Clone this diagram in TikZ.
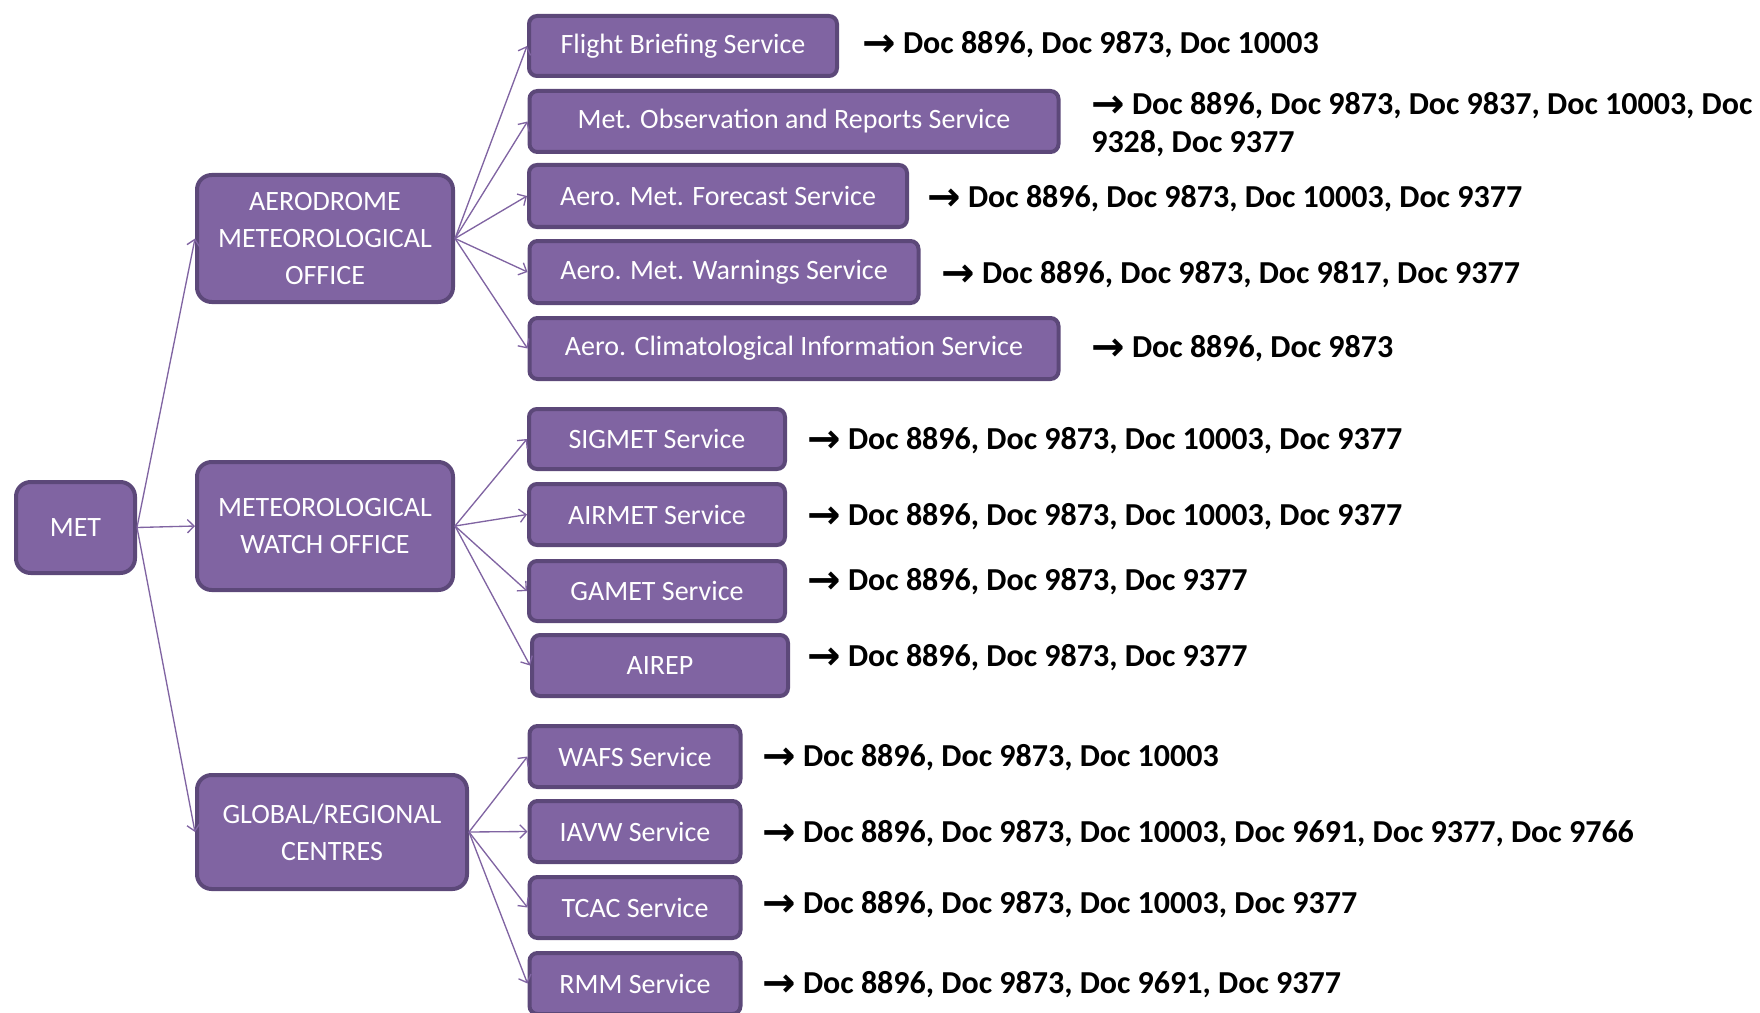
\documentclass[tikz,border=0pt]{standalone}
\usepackage{fontspec}
\setmainfont{Carlito}
\newfontfamily\frecciafont{DejaVu Sans}
\usetikzlibrary{arrows.meta}

\definecolor{viola}{HTML}{8064A2}
\definecolor{violascuro}{HTML}{5C4879}

\tikzset{
  box/.style={draw=violascuro, fill=viola, line width=3pt, rounded corners=6pt,
    text=white, align=center, inner sep=0pt, font=\fontsize{21}{27.75}\selectfont},
  bigbox/.style={box, rounded corners=11pt},
  sz/.style 2 args={minimum width=#1*0.75pt-3pt, minimum height=#2*0.75pt-3pt},
  doc/.style={anchor=west, inner sep=0pt, align=left,
    font=\fontsize{24}{28.5}\selectfont\bfseries},
  link/.style={draw=viola, line width=1pt, -{Straight Barb[length=5pt,width=10pt]}}
}
\newcommand{\freccia}{\raisebox{-2pt}{\frecciafont\bfseries\fontsize{30}{28.5}\selectfont →}}

\begin{document}
\begin{tikzpicture}[x=0.75pt, y=-0.75pt]
    \useasboundingbox (0,0) rectangle (1760,1013);

    % Nodo radice e uffici
    \node[bigbox, sz={123}{95}] (met) at (75.5, 527.5) {MET};
    \node[bigbox, sz={260}{131}] (aero) at (325, 238.5) {AERODROME\\METEOROLOGICAL\\OFFICE};
    \node[bigbox, sz={260}{132}] (mwo) at (325, 526) {METEOROLOGICAL\\WATCH OFFICE};
    \node[bigbox, sz={274}{118}] (glob) at (332, 832) {GLOBAL/REGIONAL\\CENTRES};

    % Servizi dell'ufficio di aerodromo
    \node[box, sz={312}{64}] (flight) at (683, 46) {Flight Briefing Service};
    \node[box, sz={533}{65}] (metobs) at (794, 121.5) {Met. Observation and Reports Service};
    \node[box, sz={382}{66}] (fcst) at (718, 196) {Aero. Met. Forecast Service};
    \node[box, sz={393}{66}] (warn) at (724, 272) {Aero. Met. Warnings Service};
    \node[box, sz={533}{65}] (clim) at (794, 348.5) {Aero. Climatological Information Service};

    % Servizi dell'ufficio di veglia
    \node[box, sz={260}{64}] (sigmet) at (657, 439) {SIGMET Service};
    \node[box, sz={260}{65}] (airmet) at (657, 514.5) {AIRMET Service};
    \node[box, sz={260}{64}] (gamet) at (657, 591) {GAMET Service};
    \node[box, sz={260}{65}] (airep) at (660, 665.5) {AIREP};

    % Servizi dei centri globali/regionali
    \node[box, sz={215}{65}] (wafs) at (635, 756.5) {WAFS Service};
    \node[box, sz={215}{65}] (iavw) at (635, 831.5) {IAVW Service};
    \node[box, sz={215}{65}] (tcac) at (635, 907.5) {TCAC Service};
    \node[box, sz={215}{65}] (rmm) at (635, 983.5) {RMM Service};

    % Collegamenti
    \draw[link] (met.east) -- (aero.west);
    \draw[link] (met.east) -- (mwo.west);
    \draw[link] (met.east) -- (glob.west);
    \draw[link] (aero.east) -- (flight.west);
    \draw[link] (aero.east) -- (metobs.west);
    \draw[link] (aero.east) -- (fcst.west);
    \draw[link] (aero.east) -- (warn.west);
    \draw[link] (aero.east) -- (clim.west);
    \draw[link] (mwo.east) -- (sigmet.west);
    \draw[link] (mwo.east) -- (airmet.west);
    \draw[link] (mwo.east) -- (gamet.west);
    \draw[link] (mwo.east) -- (airep.west);
    \draw[link] (glob.east) -- (wafs.west);
    \draw[link] (glob.east) -- (iavw.west);
    \draw[link] (glob.east) -- (tcac.west);
    \draw[link] (glob.east) -- (rmm.west);

    % Documenti di riferimento
    \node[doc] (dflight) at (862, 45) {\freccia{} Doc 8896, Doc 9873, Doc 10003};
    \node[doc] (dmetobs) at (1091, 125) {\freccia{} Doc 8896, Doc 9873, Doc 9837, Doc 10003, Doc\\9328, Doc 9377};
    \node[doc] (dfcst) at (927, 199) {\freccia{} Doc 8896, Doc 9873, Doc 10003, Doc 9377};
    \node[doc] (dwarn) at (941, 275) {\freccia{} Doc 8896, Doc 9873, Doc 9817, Doc 9377};
    \node[doc] (dclim) at (1091, 349) {\freccia{} Doc 8896, Doc 9873};
    \node[doc] (dsigmet) at (807, 441) {\freccia{} Doc 8896, Doc 9873, Doc 10003, Doc 9377};
    \node[doc] (dairmet) at (807, 517) {\freccia{} Doc 8896, Doc 9873, Doc 10003, Doc 9377};
    \node[doc] (dgamet) at (807, 582) {\freccia{} Doc 8896, Doc 9873, Doc 9377};
    \node[doc] (dairep) at (807, 658) {\freccia{} Doc 8896, Doc 9873, Doc 9377};
    \node[doc] (dwafs) at (762, 758) {\freccia{} Doc 8896, Doc 9873, Doc 10003};
    \node[doc] (diavw) at (762, 834) {\freccia{} Doc 8896, Doc 9873, Doc 10003, Doc 9691, Doc 9377, Doc 9766};
    \node[doc] (dtcac) at (762, 905) {\freccia{} Doc 8896, Doc 9873, Doc 10003, Doc 9377};
    \node[doc] (drmm) at (762, 985) {\freccia{} Doc 8896, Doc 9873, Doc 9691, Doc 9377};
\end{tikzpicture}
\end{document}
